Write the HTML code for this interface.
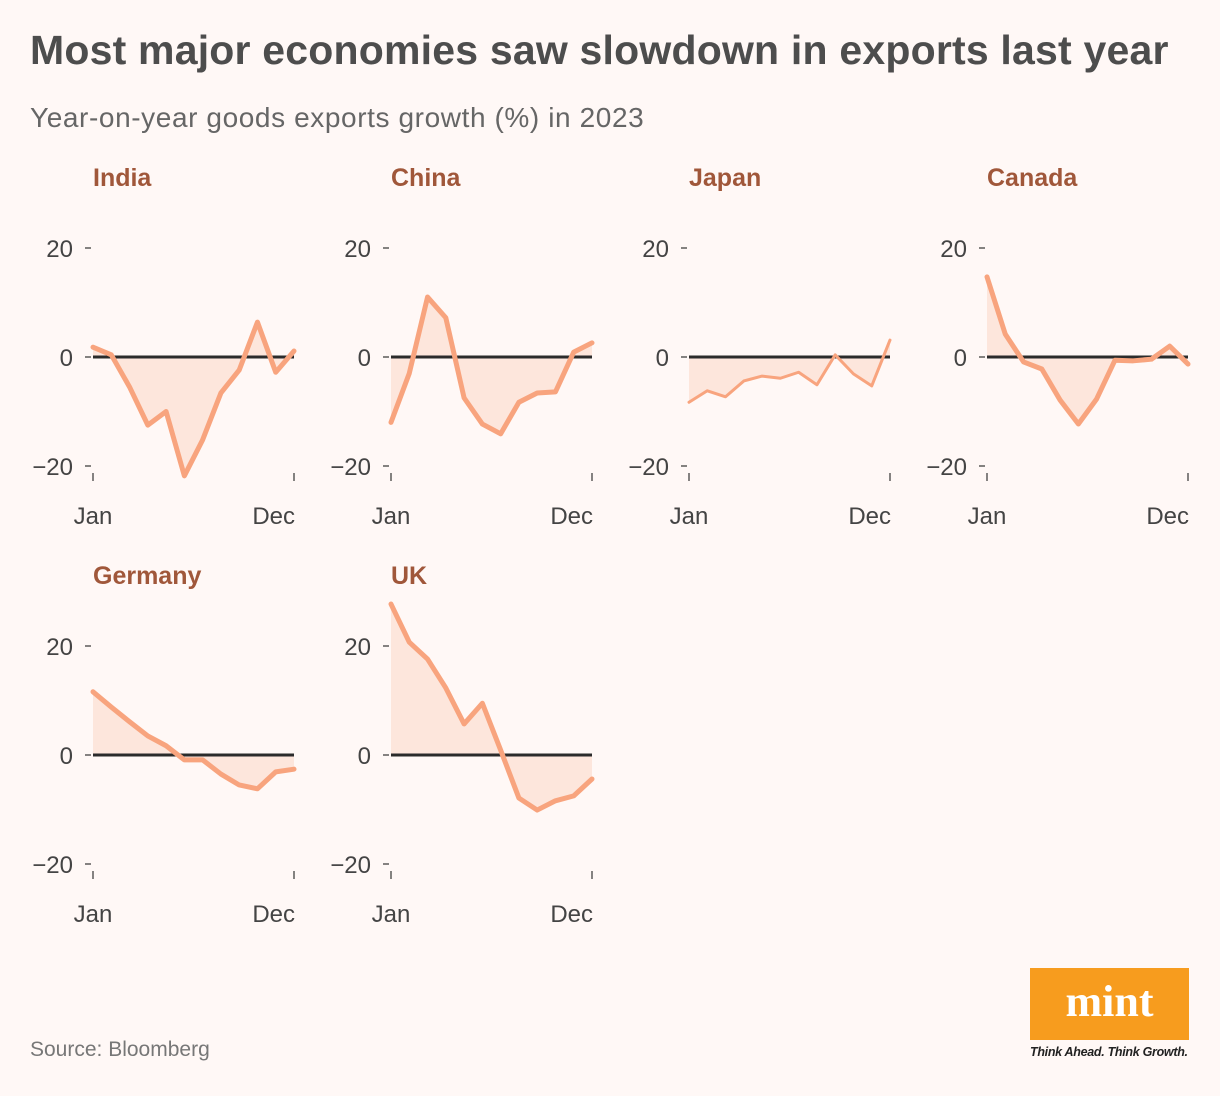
<!DOCTYPE html>
<html><head><meta charset="utf-8"><style>
body{margin:0;width:1220px;height:1096px;background:#fff8f6;font-family:"Liberation Sans",sans-serif;overflow:hidden;position:relative}
.t{position:absolute}
</style></head><body>
<div class="t" style="left:30px;top:27px;font-size:41px;font-weight:bold;color:#4d4d4d;letter-spacing:0.2px">Most major economies saw slowdown in exports last year</div>
<div class="t" style="left:30px;top:102px;font-size:28px;color:#666;letter-spacing:0.6px">Year-on-year goods exports growth (%) in 2023</div>
<svg id="c" class="t" style="left:0;top:0" width="1220" height="1096"></svg>
<div class="t" style="left:30px;top:1038px;font-size:21px;color:#777">Source: Bloomberg</div>
<div class="t" style="left:1030px;top:968px;width:159px;height:72px;background:#f79c1e;color:#fff;font-family:'Liberation Serif',serif;font-weight:bold;font-size:44px;text-align:center;line-height:68px">mint</div>
<div class="t" style="left:1030px;top:1045px;font-size:12.5px;font-style:italic;color:#222;font-weight:bold;letter-spacing:-0.3px">Think Ahead. Think Growth.</div>
<script>
const countries=["India","China","Japan","Canada","Germany","UK"];
const india=[1.8,0.4,-5.5,-12.5,-10,-21.8,-15.2,-6.6,-2.4,6.4,-2.8,1.1];
const china=[-12,-3,11,7.2,-7.5,-12.3,-14.1,-8.3,-6.6,-6.4,0.9,2.6];
const japan=[-8.3,-6.2,-7.3,-4.4,-3.5,-3.9,-2.8,-5.1,0.4,-3.1,-5.3,3.1];
const canada=[14.7,4.2,-0.9,-2.2,-7.9,-12.3,-7.7,-0.6,-0.7,-0.4,2,-1.3];
const germany=[11.6,8.8,6.1,3.5,1.7,-0.9,-0.9,-3.5,-5.5,-6.2,-3.1,-2.6];
const uk=[27.7,20.7,17.6,12.3,5.7,9.5,0.9,-7.9,-10.1,-8.4,-7.5,-4.4];
const yTicks=[20,0,-20];
const xLabels=["Jan","Dec"];
const series=[india,china,japan,canada,germany,uk];
const svg=document.getElementById('c');const NS="http://www.w3.org/2000/svg";
function mk(t,a){const e=document.createElementNS(NS,t);for(const k in a)e.setAttribute(k,a[k]);svg.appendChild(e);return e;}
series.forEach((d,i)=>{
 const col=i%4,row=Math.floor(i/4);
 const x0=93+col*298,zeroY=357+row*398;
 const xs=j=>x0+j*201/(d.length-1);
 const ys=v=>zeroY-v*5.45;
 const tl=mk('text',{x:x0,y:186+row*398,'font-size':25,'font-weight':'bold',fill:'#a0573a'});tl.textContent=countries[i];
 
 
 yTicks.forEach(v=>{
  const l=mk('line',{x1:x0-8,x2:x0-2,y1:ys(v),y2:ys(v),stroke:'#333','stroke-width':1.2});
  
  
  const t=mk('text',{x:x0-20,y:ys(v)+9,'text-anchor':'end','font-size':24,fill:'#444'});t.textContent=v<0?'\u2212'+(-v):v;
  
  
 });
 [0,d.length-1].forEach((j,k)=>{
  const l=mk('line',{x1:xs(j),x2:xs(j),y1:zeroY+116,y2:zeroY+124,stroke:'#333','stroke-width':1.2});
  
  
  const t=mk('text',{x:k==0?xs(j):xs(j)+1,y:zeroY+167,'text-anchor':k==0?'middle':'end','font-size':24,fill:'#444'});t.textContent=xLabels[k];
  
  
 });
 let p=d.map((v,j)=>xs(j)+','+ys(v)).join(' ');
 const a=mk('polygon',{points:xs(0)+','+zeroY+' '+p+' '+xs(d.length-1)+','+zeroY,fill:'#fde6dc'});
 
 
 const z=mk('line',{x1:x0,x2:x0+201,y1:zeroY,y2:zeroY,stroke:'#2b2b2b','stroke-width':3});
 
 
 const ln=mk('polyline',{points:p,fill:'none',stroke:'#f8a47e','stroke-width':i==2?3:5,'stroke-linejoin':'round','stroke-linecap':'round'});
 
 
});
</script>
</body></html>
